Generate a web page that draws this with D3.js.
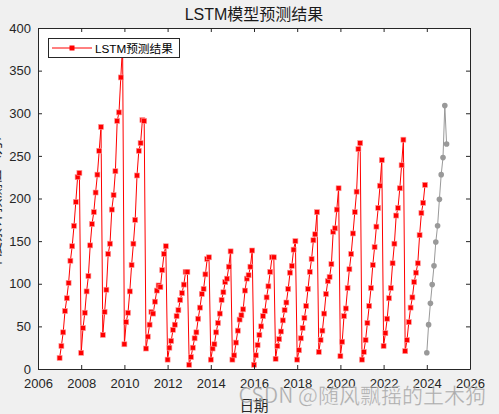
<!DOCTYPE html>
<html>
<head>
<meta charset="utf-8">
<script src="https://cdn.jsdelivr.net/npm/d3@7"></script>
<style>
html,body{margin:0;padding:0;background:#f0f0f0;}
svg{display:block;}
</style>
</head>
<body>
<svg id="chart" width="499" height="414"></svg>
<script>
// ---- data ----
const predYears = [2007,2008,2009,2010,2011,2012,2013,2014,2015,2016,2017,2018,2019,2020,2021,2022,2023];
const predValues = [
  [13, 27, 43, 68, 83, 101, 127, 144, 168, 196, 225, 230],
  [19, 48, 66, 91, 109, 145, 170, 184, 207, 228, 256, 284],
  [40, 67, 93, 135, 147, 187, 204, 232, 291, 301, 342, 380],
  [29, 55, 66, 91, 122, 147, 175, 227, 256, 265, 292, 291],
  [24, 38, 52, 67, 65, 79, 92, 98, 96, 116, 135, 144],
  [11, 25, 33, 46, 52, 62, 69, 81, 89, 99, 114, 114],
  [5, 14, 25, 36, 43, 59, 72, 88, 94, 111, 129, 131],
  [11, 24, 29, 43, 54, 65, 81, 90, 102, 106, 120, 138],
  [11, 16, 31, 45, 58, 63, 70, 92, 106, 110, 120, 139],
  [5, 16, 28, 40, 50, 62, 68, 84, 97, 114, 131, 131],
  [12, 27, 35, 44, 57, 69, 78, 94, 113, 121, 140, 150],
  [11, 22, 36, 48, 60, 74, 94, 114, 129, 151, 158, 184],
  [20, 34, 45, 65, 88, 103, 108, 123, 161, 165, 187, 212],
  [15, 32, 62, 71, 95, 117, 135, 159, 184, 208, 258, 265],
  [11, 20, 34, 54, 74, 95, 122, 143, 167, 189, 215, 245],
  [27, 42, 59, 83, 95, 124, 147, 180, 189, 212, 239, 269],
  [21, 34, 55, 72, 84, 102, 113, 124, 157, 183, 195, 216]
];
const forecastYear = 2024;
const forecastValues = [19, 52, 77, 99, 121, 149, 168, 199, 228, 248, 309, 264];
const xTicks = [2006,2008,2010,2012,2014,2016,2018,2020,2022,2024,2026];
const yTicks = [0,50,100,150,200,250,300,350,400];
const titleText = "LSTM模型预测结果";
const xLabel = "日期";
const yLabel = "年度累计预测值（万）";
const legendLabel = "LSTM预测结果";
const watermark = "CSDN @随风飘摇的土木狗";

// ---- layout ----
const svg = d3.select("#chart");
const L = 38, R = 470, T = 28, B = 369;
const FONT = "'Liberation Sans', Arial, 'Noto Sans CJK SC', sans-serif";
const axisColor = "#262626";

const x = d3.scaleLinear().domain([2006, 2026]).range([L, R]);
const y = d3.scaleLinear().domain([0, 400]).range([B, T]);

const pred = [];
predYears.forEach((yr, i) => predValues[i].forEach((v, m) => pred.push({t: yr + m / 12, v})));
const fc = forecastValues.map((v, m) => ({t: forecastYear + m / 12, v}));

// plot background
svg.append("rect").attr("x", L).attr("y", T).attr("width", R - L).attr("height", B - T).attr("fill", "#fff");

svg.append("clipPath").attr("id", "pc").append("rect")
  .attr("x", L).attr("y", T).attr("width", R - L).attr("height", B - T);

const line = d3.line().x(d => x(d.t)).y(d => y(d.v));
const g = svg.append("g").attr("clip-path", "url(#pc)");

g.append("path").datum(pred).attr("d", line).attr("fill", "none")
  .attr("stroke", "#ff0000").attr("stroke-width", 1);
g.selectAll("rect.pm").data(pred).enter().append("rect").attr("class", "pm")
  .attr("x", d => x(d.t) - 2.5).attr("y", d => y(d.v) - 2.5)
  .attr("width", 5).attr("height", 5).attr("fill", "#ff0000")
  .attr("stroke", "#ff9a9a").attr("stroke-width", 0.6);

g.append("path").datum(fc).attr("d", line).attr("fill", "none")
  .attr("stroke", "#999999").attr("stroke-width", 1);
g.selectAll("circle.fm").data(fc).enter().append("circle").attr("class", "fm")
  .attr("cx", d => x(d.t)).attr("cy", d => y(d.v)).attr("r", 2.8)
  .attr("fill", "#999999");

// axes (MATLAB style box, inward ticks)
const tickLen = 4;
const xAxisB = d3.axisBottom(x).tickValues(xTicks).tickFormat(d3.format("d")).tickSizeInner(-tickLen).tickSizeOuter(0).tickPadding(10);
const xAxisT = d3.axisTop(x).tickValues(xTicks).tickFormat("").tickSizeInner(-tickLen).tickSizeOuter(0);
const yAxisL = d3.axisLeft(y).tickValues(yTicks).tickSizeInner(-tickLen).tickSizeOuter(0).tickPadding(7);
const yAxisR = d3.axisRight(y).tickValues(yTicks).tickFormat("").tickSizeInner(-tickLen).tickSizeOuter(0);

function style(sel) {
  sel.selectAll("path").attr("stroke", axisColor).attr("stroke-width", 1);
  sel.selectAll("line").attr("stroke", axisColor);
  sel.selectAll("text").attr("fill", axisColor).style("font-family", FONT).style("font-size", "13px");
}
svg.append("g").attr("transform", `translate(0,${B})`).call(xAxisB).call(style);
svg.append("g").attr("transform", `translate(0,${T})`).call(xAxisT).call(style);
svg.append("g").attr("transform", `translate(${L},0)`).call(yAxisL).call(style);
svg.append("g").attr("transform", `translate(${R},0)`).call(yAxisR).call(style);

// title & labels
svg.append("text").attr("x", (L + R) / 2).attr("y", 20).attr("text-anchor", "middle")
  .style("font-family", FONT).style("font-size", "16px").attr("fill", "#1a1a1a").text(titleText);
svg.append("text").attr("x", (L + R) / 2).attr("y", 411).attr("text-anchor", "middle")
  .style("font-family", FONT).style("font-size", "14.5px").attr("fill", axisColor).text(xLabel);
svg.append("text").attr("transform", `translate(0,${(T + B) / 2}) rotate(-90)`).attr("text-anchor", "middle")
  .style("font-family", FONT).style("font-size", "14.5px").attr("fill", axisColor).text(yLabel);

// legend
const lg = svg.append("g");
lg.append("rect").attr("x", 48.5).attr("y", 38.5).attr("width", 131).attr("height", 19)
  .attr("fill", "#fff").attr("stroke", axisColor).attr("stroke-width", 1);
lg.append("line").attr("x1", 52).attr("x2", 92).attr("y1", 48).attr("y2", 48)
  .attr("stroke", "#ff0000").attr("stroke-width", 1);
lg.append("rect").attr("x", 69.5).attr("y", 45.5).attr("width", 5).attr("height", 5).attr("fill", "#ff0000");
lg.append("text").attr("x", 95).attr("y", 52.5).style("font-family", FONT).style("font-size", "11.7px")
  .attr("fill", "#000").text(legendLabel);

// watermark
svg.append("text").attr("x", 486).attr("y", 403).attr("text-anchor", "end")
  .style("font-family", "'Noto Sans CJK SC', sans-serif").style("font-size", "21px")
  .attr("fill", "rgba(140,140,140,0.7)").attr("stroke", "rgba(255,255,255,0.5)").attr("stroke-width", 0.5)
  .text(watermark);
</script>
</body>
</html>
